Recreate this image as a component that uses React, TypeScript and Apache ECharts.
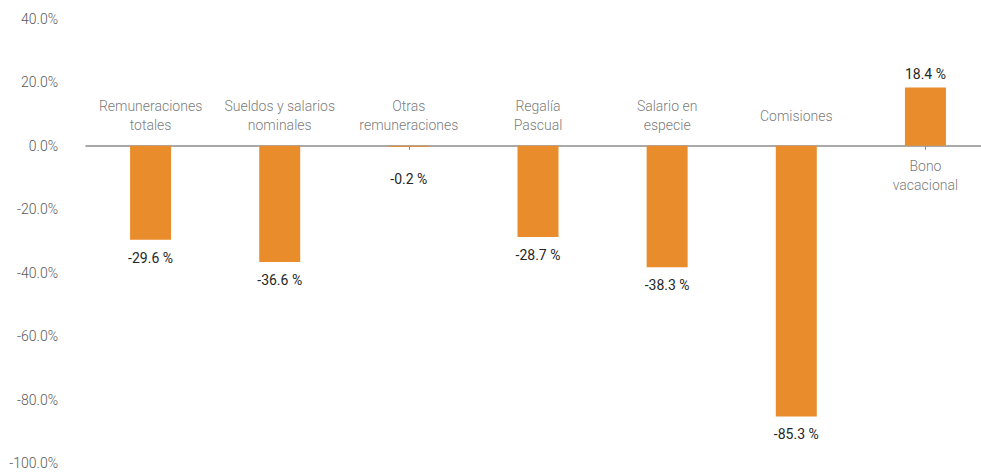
import React, { useEffect, useRef } from "react";
import * as echarts from "echarts";

const categories = [
  "Remuneraciones\ntotales",
  "Sueldos y salarios\nnominales",
  "Otras\nremuneraciones",
  "Regalía\nPascual",
  "Salario en\nespecie",
  "Comisiones",
  "Bono\nvacacional",
];
const values = [-29.6, -36.6, -0.2, -28.7, -38.3, -85.3, 18.4];
const yMin = -100;
const yMax = 40;
const yInterval = 20;

export default function App() {
  const ref = useRef<HTMLDivElement>(null);
  useEffect(() => {
    if (!ref.current) return;
    const chart = echarts.init(ref.current, undefined, { renderer: "svg" });
    const font = "Roboto";
    chart.setOption({
      animation: false,
      grid: { left: 86, right: 0, top: 19, bottom: 10, containLabel: false },
      xAxis: {
        type: "category",
        data: categories,
        axisLine: { onZero: true, lineStyle: { color: "#8c8c8c", width: 1.5 } },
        axisTick: { show: true, alignWithLabel: true, length: 4, lineStyle: { color: "#8c8c8c" } },
        axisLabel: { show: false },
        splitLine: { show: false },
      },
      yAxis: {
        type: "value",
        min: yMin,
        max: yMax,
        interval: yInterval,
        axisLine: { show: false },
        axisTick: { show: false },
        splitLine: { show: false },
        axisLabel: {
          margin: 28,
          color: "#595959",
          fontFamily: font,
          fontWeight: 300,
          fontSize: 14,
          formatter: (v: number) => v.toFixed(1) + "%",
        },
      },
      series: [
        {
          type: "bar",
          barWidth: 41,
          barMinHeight: 1,
          itemStyle: { color: "#E98D2C" },
          data: values.map((v) => ({
            value: v,
            label: {
              show: true,
              position: v >= 0 ? "top" : "bottom",
              distance: v > -1 && v < 0 ? 25 : v >= 0 ? 7 : 11,
              formatter: () => v.toFixed(1) + " %",
              color: "#262626",
              fontFamily: font,
              fontWeight: 400,
              fontSize: 14,
            },
          })),
          z: 2,
        },
        {
          type: "scatter",
          symbolSize: 0,
          silent: true,
          data: values.map((v, i) => ({
            value: [i, 0],
            label: {
              show: true,
              position: "inside",
              offset: [0, v >= 0 ? 30 : -30],
              formatter: categories[i],
              color: "#555555",
              fontFamily: font,
              fontWeight: 300,
              fontSize: 14,
              lineHeight: 19,
              align: "center",
              verticalAlign: "middle",
            },
          })),
          z: 3,
        },
      ],
    });
    return () => chart.dispose();
  }, []);
  return (
    <div style={{ position: "absolute", left: 0, top: 0, width: 981, height: 473, overflow: "hidden" }}>
      <div ref={ref} style={{ width: 990, height: 473 }} />
    </div>
  );
}
